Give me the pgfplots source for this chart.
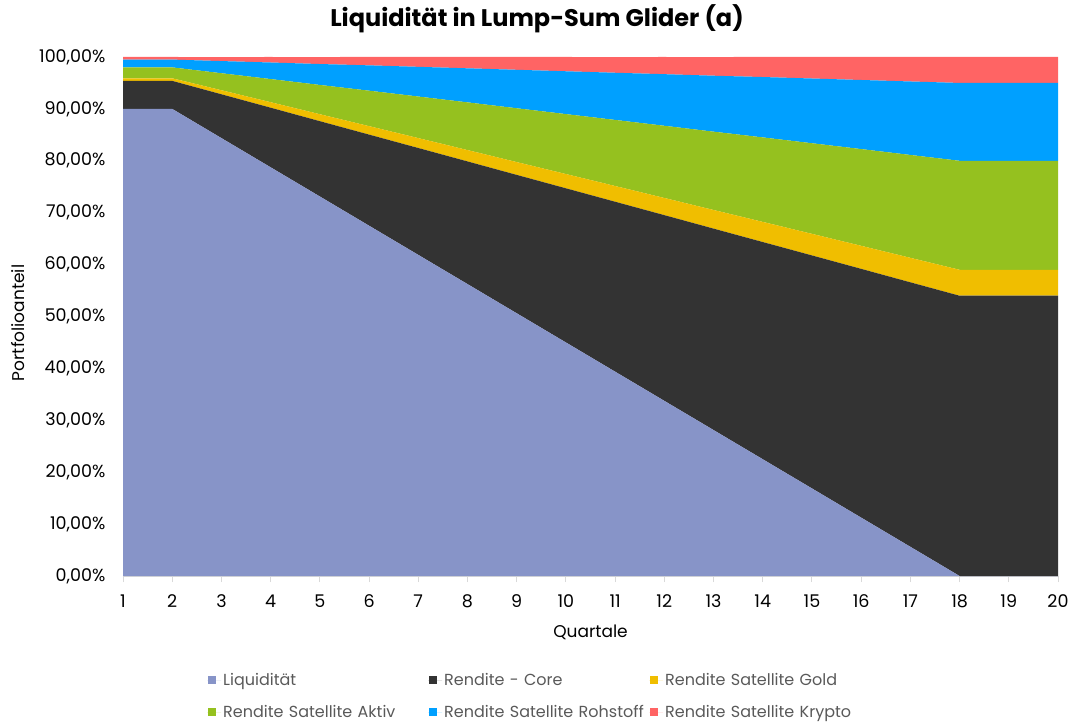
\documentclass[border=0pt]{standalone}
\usepackage{pgfplots}
\usepackage{pgfplotstable}
\pgfplotsset{compat=1.18}
\usepackage{fontspec}
\setmainfont{Poppins}
\definecolor{cLiq}{HTML}{8794C8}
\definecolor{cCore}{HTML}{333333}
\definecolor{cGold}{HTML}{F0BE00}
\definecolor{cAktiv}{HTML}{95C11F}
\definecolor{cRoh}{HTML}{00A0FF}
\definecolor{cKry}{HTML}{FF6464}
\definecolor{cGrid}{HTML}{D9D9D9}
\definecolor{cLeg}{HTML}{595959}
\pgfplotstableread{
x liq core gold aktiv roh kry
1 90.000 5.40 0.50 2.10 1.50 0.50
2 90.000 5.40 0.50 2.10 1.50 0.50
3 84.375 8.44 0.78 3.28 2.34 0.78
4 78.750 11.48 1.06 4.46 3.19 1.06
5 73.125 14.51 1.34 5.64 4.03 1.34
6 67.500 17.55 1.63 6.83 4.88 1.63
7 61.875 20.59 1.91 8.01 5.72 1.91
8 56.250 23.63 2.19 9.19 6.56 2.19
9 50.625 26.66 2.47 10.37 7.41 2.47
10 45.000 29.70 2.75 11.55 8.25 2.75
11 39.375 32.74 3.03 12.73 9.09 3.03
12 33.750 35.78 3.31 13.91 9.94 3.31
13 28.125 38.81 3.59 15.09 10.78 3.59
14 22.500 41.85 3.88 16.28 11.63 3.88
15 16.875 44.89 4.16 17.46 12.47 4.16
16 11.250 47.93 4.44 18.64 13.31 4.44
17 5.625 50.96 4.72 19.82 14.16 4.72
18 0.000 54.00 5.00 21.00 15.00 5.00
19 0.000 54.00 5.00 21.00 15.00 5.00
20 0.000 54.00 5.00 21.00 15.00 5.00
}\datatable
\begin{document}
\begin{tikzpicture}
\path[use as bounding box] (0,0) rectangle (1075pt,726pt);
\node[font=\fontsize{24}{28}\selectfont\bfseries] at (537pt,707pt) {Liquidität in Lump-Sum Glider (a)};
\begin{axis}[
  at={(123pt,150pt)}, anchor=south west,
  scale only axis, width=935pt, height=519pt,
  xmin=1, xmax=20, ymin=0, ymax=100,
  xtick={1,...,20}, ytick={0,10,...,100},
  stack plots=y,
  axis x line*=bottom, axis y line*=left,
  x axis line style={draw=cGrid, line width=1.2pt},
  y axis line style={draw=none},
  xtick style={draw=cGrid, line width=1pt},
  major tick length=6pt,
  xtick align=outside,
  ytick style={draw=none},
  tick label style={font=\fontsize{17.5}{20}\selectfont, text=black},
  /pgf/number format/assume math mode=true,
  yticklabel={\pgfmathprintnumber[fixed,fixed zerofill,precision=2,use comma]{\tick}\%},
  xticklabel={\pgfmathprintnumber{\tick}},
  xticklabel style={yshift=-9pt},
  yticklabel style={xshift=-14pt},
  xlabel={Quartale}, ylabel={Portfolioanteil},
  label style={font=\fontsize{17}{20}\selectfont},
  xlabel style={at={(axis description cs:0.5,-0.108)}, anchor=center},
  ylabel style={at={(axis description cs:-0.1123,0.4875)}, anchor=center, rotate=0},
  legend columns=3,
  legend style={at={(axis description cs:0.0866,-0.180)}, anchor=north west, draw=none, fill=none,
    font=\fontsize{16}{19}\selectfont, text=cLeg,
    nodes={text width=203pt, align=left, inner sep=2pt},
    /tikz/every even column/.append style={column sep=0pt},
    row sep=14pt},
  legend cell align=left,
  legend image code/.code={\fill[#1] (1pt,-4pt) rectangle (9pt,4pt); \path (0pt,0pt) -- (14pt,0pt);},
  clip=true,
]
\addplot[fill=cLiq, draw=none] table[x=x,y=liq]{\datatable} \closedcycle;
\addplot[fill=cCore, draw=none] table[x=x,y=core]{\datatable} \closedcycle;
\addplot[fill=cGold, draw=none] table[x=x,y=gold]{\datatable} \closedcycle;
\addplot[fill=cAktiv, draw=none] table[x=x,y=aktiv]{\datatable} \closedcycle;
\addplot[fill=cRoh, draw=none] table[x=x,y=roh]{\datatable} \closedcycle;
\addplot[fill=cKry, draw=none] table[x=x,y=kry]{\datatable} \closedcycle;
\legend{\mbox{Liquidität}, \mbox{Rendite - Core}, \mbox{Rendite Satellite Gold}, \mbox{Rendite Satellite Aktiv}, \mbox{Rendite Satellite Rohstoff}, \mbox{Rendite Satellite Krypto}}
\end{axis}
\end{tikzpicture}
\end{document}
